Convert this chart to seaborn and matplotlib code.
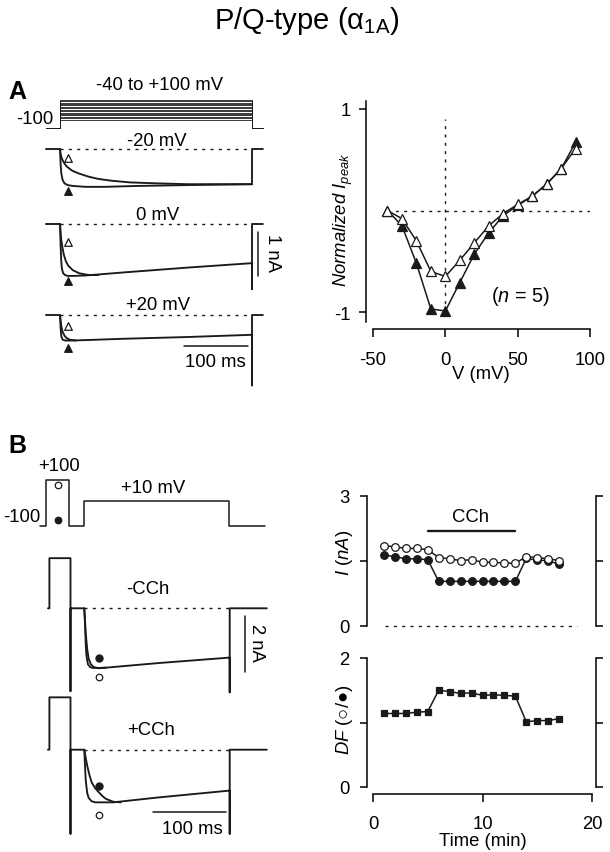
import matplotlib
matplotlib.use("Agg")
import matplotlib.pyplot as plt
import seaborn as sns

W, H = 610, 853

# ---------------- panel A : I-V relation (normalized peak current)
iv_v = [-40, -30, -20, -10, 0, 10, 20, 30, 40, 50, 60, 70, 80, 90]
iv_open = [0.0, -0.08, -0.30, -0.60, -0.65, -0.49, -0.32, -0.15, -0.03, 0.06, 0.14, 0.26, 0.41, 0.61]
iv_filled = [0.0, -0.15, -0.52, -0.97, -0.99, -0.71, -0.43, -0.22, -0.05, 0.05, 0.14, 0.26, 0.41, 0.67]

# ---------------- panel A : current traces (time in ms, current in nA)
a_steps_mv = [-40, -30, -20, -10, 0, 10, 20, 30, 40, 50, 60, 70, 80, 90, 100]
a_labels = ["-20 mV", "0 mV", "+20 mV"]

m20_fast_t = [0, 1, 2, 4, 7, 12, 20, 40, 70, 120, 200, 300]
m20_fast_i = [0, -0.35, -0.55, -0.70, -0.78, -0.82, -0.84, -0.86, -0.86, -0.84, -0.82, -0.80]
m20_slow_t = [0, 1, 3, 6, 10, 15, 20, 30, 45, 60, 80, 110, 150, 200, 300]
m20_slow_i = [0, -0.12, -0.22, -0.31, -0.39, -0.45, -0.50, -0.56, -0.63, -0.68, -0.72, -0.76, -0.78, -0.80, -0.80]

z0_fast_t = [0, 1, 2, 3, 5, 8, 12, 20, 40, 100, 200, 300]
z0_fast_i = [0, -0.50, -0.85, -1.02, -1.12, -1.16, -1.18, -1.18, -1.17, -1.10, -0.99, -0.89]
z0_slow_t = [0, 1, 2, 4, 6, 9, 13, 20, 30, 45, 60]
z0_slow_i = [0, -0.20, -0.36, -0.55, -0.70, -0.84, -0.95, -1.05, -1.12, -1.16, -1.16]

p20_fast_t = [0, 1, 2, 4, 8, 20, 100, 200, 300]
p20_fast_i = [0, -0.30, -0.48, -0.56, -0.58, -0.58, -0.54, -0.50, -0.45]
p20_slow_t = [0, 2, 4, 7, 10, 15, 25]
p20_slow_i = [0, -0.25, -0.38, -0.47, -0.52, -0.56, -0.58]

a_tails = [0, -1.48, -1.60]
a_open_marks = [-0.20, -0.42, -0.26]
a_filled_marks = [-0.96, -1.30, -0.76]

# ---------------- panel B : traces (time in ms, current in nA)
b_prepulse = [-48, -19]
b_pre_level = [1.79, 1.87]
b_pre_tail = [-2.96, -3.0]
b_end_tail = [-3.0, -3.0]

ctrl_fast_t = [0, 1, 2, 3, 5, 8, 12, 20, 30, 100, 200]
ctrl_fast_i = [0, -0.6, -1.3, -1.7, -2.0, -2.1, -2.13, -2.13, -2.12, -1.96, -1.76]
ctrl_slow_t = [0, 2, 4, 6, 9, 13, 20, 30]
ctrl_slow_i = [0, -0.9, -1.46, -1.8, -2.0, -2.1, -2.14, -2.12]

cch_fast_t = [0, 1, 2, 4, 6, 10, 15, 40, 100, 200]
cch_fast_i = [0, -0.6, -1.1, -1.55, -1.72, -1.84, -1.88, -1.88, -1.71, -1.46]
cch_slow_t = [0, 2, 4, 7, 10, 15, 20, 25, 30, 40, 50]
cch_slow_i = [0, -0.3, -0.57, -0.9, -1.16, -1.38, -1.52, -1.66, -1.76, -1.86, -1.88]

b_filled_marks = [-1.78, -1.29]
b_open_marks = [-2.46, -2.33]

# ---------------- panel B : time course
time_min = [1, 2, 3, 4, 5, 6, 7, 8, 9, 10, 11, 12, 13, 14, 15, 16, 17]
i_open = [1.85, 1.83, 1.79, 1.79, 1.76, 1.58, 1.55, 1.51, 1.53, 1.47, 1.47, 1.45, 1.45, 1.60, 1.58, 1.55, 1.51]
i_filled = [1.64, 1.60, 1.55, 1.55, 1.53, 1.03, 1.03, 1.03, 1.03, 1.03, 1.03, 1.03, 1.03, 1.56, 1.52, 1.51, 1.42]
df_ratio = [1.14, 1.14, 1.14, 1.16, 1.17, 1.50, 1.48, 1.45, 1.46, 1.42, 1.43, 1.42, 1.41, 1.01, 1.03, 1.03, 1.06]
cch_on = [5, 13]

sns.set_theme(style="ticks")
plt.rcParams["font.family"] = ["Liberation Sans", "DejaVu Sans"]
plt.rcParams["mathtext.fontset"] = "custom"
plt.rcParams["mathtext.rm"] = "Liberation Sans"
plt.rcParams["mathtext.it"] = "Liberation Sans:italic"
plt.rcParams["axes.unicode_minus"] = False
for key in ("text.color", "axes.labelcolor", "xtick.color", "ytick.color", "axes.edgecolor"):
    plt.rcParams[key] = "black"

LW = 1.1
TLW = 1.35
DOT = (0, (2.2, 3.8))
FS = 13.3

fig = plt.figure(figsize=(W / 100, H / 100), dpi=100)


def px_axes(x0, y0, x1, y1):
    return fig.add_axes([x0 / W, 1 - y1 / H, (x1 - x0) / W, (y1 - y0) / H])


def trace_axes(x0, y0, x1, y1, t0_px, px_ms, zero_px, px_unit):
    ax = px_axes(x0, y0, x1, y1)
    ax.set_xlim((x0 - t0_px) / px_ms, (x1 - t0_px) / px_ms)
    ax.set_ylim((zero_px - y1) / px_unit, (zero_px - y0) / px_unit)
    ax.set_axis_off()
    return ax


def ftext(x, y, s, **kw):
    kw.setdefault("ha", "center")
    kw.setdefault("va", "center")
    kw.setdefault("fontsize", FS)
    fig.text(x / W, 1 - y / H, s, **kw)


def line(ax, t, i, lw=TLW):
    sns.lineplot(x=t, y=i, ax=ax, color="k", lw=lw, sort=False, estimator=None)


def sweep(t_on, i_on, t_start, t_off, t_end, tail, pre=None):
    t, i = [t_start], [0]
    if pre is not None:
        ta, tb, level, ptail = pre
        t += [ta, ta, tb, tb, tb]
        i += [0, level, level, ptail, 0]
    t += list(t_on) + [t_off, t_off, t_end]
    i += list(i_on) + [tail, 0, 0]
    return t, i


def mark(ax, t, y, m, filled, s=30):
    sns.scatterplot(x=[t], y=[y], ax=ax, marker=m, s=s,
                    color="k" if filled else "white", edgecolor="k", linewidth=0.9)


# ---- title and panel letters
ftext(307, 29, r"P/Q-type (α$_{\mathregular{1A}}$)", fontsize=21, va="baseline")
ftext(8, 99, "A", fontsize=18, fontweight="bold", ha="left", va="baseline")
ftext(8, 453, "B", fontsize=18, fontweight="bold", ha="left", va="baseline")

# ---- panel A protocol
axp = trace_axes(40, 90, 285, 135, 60, 0.64, 115, 0.143)
for v in a_steps_mv:
    line(axp, [-22, 0, 0, 300, 300, 317], [-100, -100, v, v, -100, -100], lw=0.6)
ftext(160, 86, "-40 to +100 mV")
ftext(53, 120, "-100", ha="right")

# ---- panel A traces
rows = [(130, 205, 150, m20_fast_t, m20_fast_i, m20_slow_t, m20_slow_i),
        (205, 300, 225, z0_fast_t, z0_fast_i, z0_slow_t, z0_slow_i),
        (300, 395, 316, p20_fast_t, p20_fast_i, p20_slow_t, p20_slow_i)]
a_axes = []
for k, (y0, y1, zero, ft, fi, st, si) in enumerate(rows):
    ax = trace_axes(40, y0, 285, y1, 60, 0.64, zero, 44)
    t, i = sweep(ft, fi, -22, 300, 317, a_tails[k])
    line(ax, t, i)
    line(ax, st, si)
    ax.plot([0, 300], [0, 0], ls=DOT, color="k", lw=1.0)
    mark(ax, 13, a_open_marks[k], "^", False)
    mark(ax, 13, a_filled_marks[k], "^", True)
    a_axes.append(ax)
ftext(157, 141, a_labels[0])
ftext(158, 216, a_labels[1])
ftext(158, 305, a_labels[2])

# scale bars A
a_axes[1].plot([309, 309], [-0.18, -1.18], color="k", lw=LW)
ftext(273, 253, "1 nA", rotation=-90)
a_axes[2].plot([194, 294], [-0.70, -0.70], color="k", lw=LW)
ftext(215, 363, "100 ms")

# ---- panel A I-V plot
ax = px_axes(373, 102, 590, 323)
ax.set_xlim(-50, 100)
ax.set_ylim(-1 - 10 / 101.5, 1 + 8 / 101.5)
ax.plot([-40, 100], [0, 0], ls=DOT, color="k", lw=1.0)
ax.plot([0, 0], [-1, 0.9], ls=DOT, color="k", lw=1.0)
sns.lineplot(x=iv_v, y=iv_filled, ax=ax, color="k", lw=LW, marker="^", markersize=6.5,
             markerfacecolor="k", markeredgecolor="k", markeredgewidth=0.9)
sns.lineplot(x=iv_v, y=iv_open, ax=ax, color="k", lw=LW, marker="^", markersize=6.5,
             markerfacecolor="white", markeredgecolor="k", markeredgewidth=0.9)
sns.despine(ax=ax)
ax.spines["left"].set_position(("outward", 5))
ax.spines["bottom"].set_position(("outward", 5))
for s in ("left", "bottom"):
    ax.spines[s].set_linewidth(LW)
ax.set_yticks([-1, 1], labels=["-1", "1"])
ax.set_xticks([-50, 0, 50, 100], labels=["-50", "0", "50", "100"])
ax.tick_params(axis="y", length=5, width=LW, pad=6, labelsize=FS)
ax.tick_params(axis="x", length=6, width=LW, pad=10, labelsize=FS)
ax.set_xlabel("V (mV)", fontsize=FS)
ax.set_ylabel(r"$Normalized\ I_{peak}$", fontsize=FS)
ax.xaxis.set_label_coords(481 / W, 1 - 366 / H, transform=fig.transFigure)
ax.yaxis.set_label_coords(355 / W, 1 - 220 / H, transform=fig.transFigure)
ax.text(52, -0.84, r"($n$ = 5)", ha="center", va="center", fontsize=FS + 1)

# ---- panel B protocol
axp = trace_axes(30, 470, 280, 535, 84.3, 0.727, 504, 0.23)
line(axp, [-61, -52, -52, -21, -21, 0, 0, 199, 199, 248],
     [-100, -100, 100, 100, -100, -100, 10, 10, -100, -100], lw=LW)
mark(axp, -36, 78, "o", False, s=22)
mark(axp, -36, -74, "o", True, s=22)
ftext(59, 467, "+100")
ftext(40, 517, "-100", ha="right")
ftext(153, 489, "+10 mV")

# ---- panel B traces
brows = [(545, 700, 609.3, ctrl_fast_t, ctrl_fast_i, ctrl_slow_t, ctrl_slow_i),
         (690, 845, 750.7, cch_fast_t, cch_fast_i, cch_slow_t, cch_slow_i)]
b_axes = []
for k, (y0, y1, zero, ft, fi, st, si) in enumerate(brows):
    ax = trace_axes(30, y0, 280, y1, 84.3, 0.727, zero, 28)
    t, i = sweep(ft, fi, -50, 200, 251, b_end_tail[k],
                 pre=(b_prepulse[0], b_prepulse[1], b_pre_level[k], b_pre_tail[k]))
    line(ax, t, i)
    line(ax, st, si)
    ax.plot([0, 200], [0, 0], ls=DOT, color="k", lw=1.0)
    mark(ax, 20.6, b_filled_marks[k], "o", True, s=26)
    mark(ax, 20.6, b_open_marks[k], "o", False, s=22)
    b_axes.append(ax)
ftext(148, 589, "-CCh")
ftext(151, 731, "+CCh")
b_axes[0].plot([221, 221], [-0.28, -2.28], color="k", lw=LW)
ftext(256, 643, "2 nA", rotation=-90)
b_axes[1].plot([95, 195], [-2.23, -2.23], color="k", lw=LW)
ftext(192, 830, "100 ms")


# ---- panel B time course
def style_tc(ax):
    sns.despine(ax=ax, right=False)
    ax.spines["left"].set_position(("outward", 4))
    ax.spines["right"].set_position(("outward", 3))
    for s in ("left", "right", "bottom"):
        ax.spines[s].set_linewidth(LW)
    ax.tick_params(axis="y", length=5, width=LW, pad=8, labelsize=FS,
                   right=True, labelright=False)
    ax.set_xlim(0, 20)


ax_i = px_axes(373, 497, 592, 627)
ax_i.set_ylim(0, 3)
ax_i.plot([1.1, 18.6], [0, 0], ls=DOT, color="k", lw=1.0, clip_on=False)
sns.lineplot(x=time_min, y=i_filled, ax=ax_i, color="k", lw=LW, marker="o", markersize=5.5,
             markerfacecolor="k", markeredgecolor="k", markeredgewidth=0.9)
sns.lineplot(x=time_min, y=i_open, ax=ax_i, color="k", lw=LW, marker="o", markersize=5.5,
             markerfacecolor="white", markeredgecolor="k", markeredgewidth=0.9)
ax_i.plot(cch_on, [2.2, 2.2], color="k", lw=1.7)
ax_i.text(sum(cch_on) / 2 - 0.1, 2.52, "CCh", ha="center", va="center", fontsize=FS)
style_tc(ax_i)
ax_i.spines["bottom"].set_visible(False)
ax_i.tick_params(axis="x", bottom=False, labelbottom=False)
ax_i.set_yticks([0, 1.5, 3], labels=["0", "", "3"])
ax_i.set_xlabel("")
ax_i.set_ylabel(r"$I\ (nA)$", fontsize=FS)
ax_i.yaxis.set_label_coords(355 / W, 1 - 553 / H, transform=fig.transFigure)

ax_d = px_axes(373, 659, 592, 788)
ax_d.set_ylim(0, 2)
sns.lineplot(x=time_min, y=df_ratio, ax=ax_d, color="k", lw=LW, marker="s", markersize=4.8,
             markerfacecolor="k", markeredgecolor="k", markeredgewidth=0.9)
style_tc(ax_d)
ax_d.spines["bottom"].set_position(("outward", 5))
ax_d.set_yticks([0, 1, 2], labels=["0", "", "2"])
ax_d.set_xticks([0, 10, 20], labels=["0", "10", "20"])
ax_d.tick_params(axis="x", length=6, width=LW, pad=9, labelsize=FS)
ax_d.set_xlabel("Time (min)", fontsize=FS)
ax_d.set_ylabel(r"$DF$ (○/●)", fontsize=FS)
ax_d.xaxis.set_label_coords(483 / W, 1 - 833 / H, transform=fig.transFigure)
ax_d.yaxis.set_label_coords(355 / W, 1 - 720 / H, transform=fig.transFigure)

fig.savefig("out.png", dpi=100)
